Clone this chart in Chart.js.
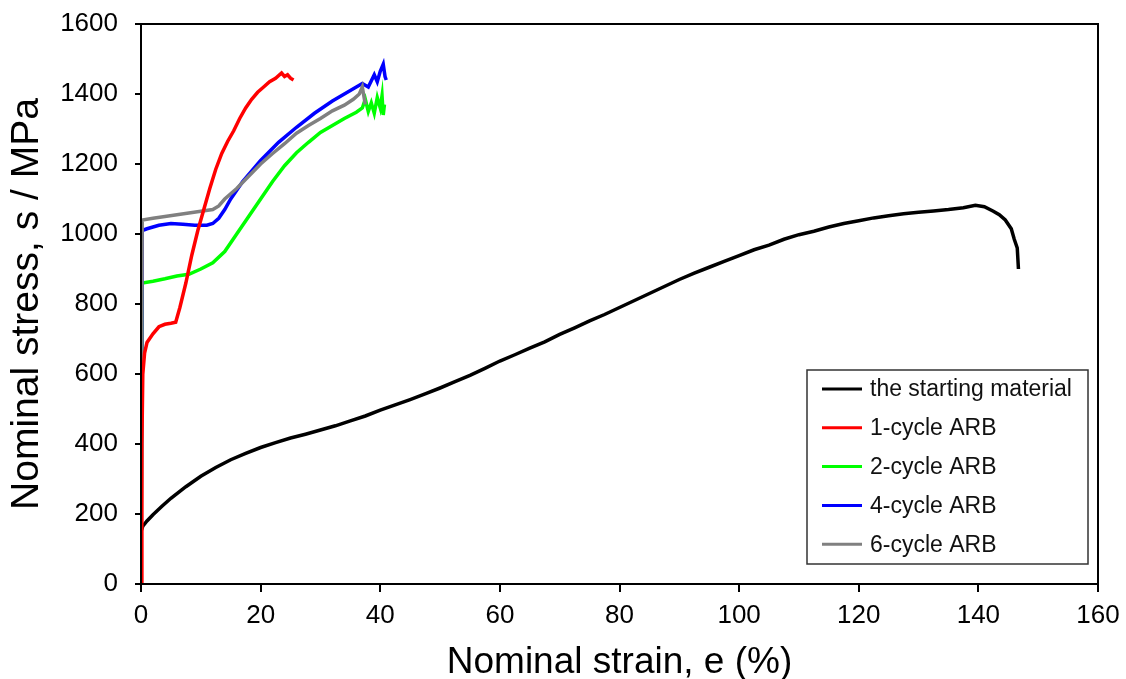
<!DOCTYPE html>
<html lang="en">
<head>
  <meta charset="UTF-8">
  <title>Nominal stress-strain curves</title>
  <script src="https://cdn.jsdelivr.net/npm/chart.js"></script>
  <style>
    body {
      margin: 0;
      background: #ffffff;
    }
    canvas {
      display: block;
    }
  </style>
</head>
<body>

  <canvas id="ssChart" width="1126" height="679"></canvas>

  <script>
    // series labels + colours
    const seriesNames = ['the starting material', '1-cycle ARB', '2-cycle ARB', '4-cycle ARB', '6-cycle ARB'];
    const seriesColors = ['#000000', '#ff0000', '#00ff00', '#0000ff', '#808080'];

    // axis ticks
    const strainTicks = [0, 20, 40, 60, 80, 100, 120, 140, 160];
    const stressTicks = [0, 200, 400, 600, 800, 1000, 1200, 1400, 1600];

    // the starting material
    const startStrain = [0, 0, 0.3, 1, 2, 3.5, 5, 7.5, 10, 12.5, 15, 17.5, 20, 22.5, 25, 27.5, 30, 32.5, 35, 37.5, 40, 42.5, 45, 47.5, 50, 52.5, 55, 57.5, 60, 62.5, 65, 67.5, 70, 72.5, 75, 77.5, 80, 82.5, 85, 87.5, 90, 92.5, 95, 97.5, 100, 102.5, 105, 107.5, 110, 112.5, 115, 117.5, 120, 122.5, 125, 127.5, 130, 132.5, 135, 137.5, 139.5, 141, 142.5, 143.5, 144.5, 145.5, 146, 146.5, 146.7];
    const startStress = [0, 150, 165, 180, 198, 222, 245, 278, 308, 333, 355, 373, 390, 404, 417, 428, 440, 452, 466, 480, 497, 512, 527, 543, 560, 578, 596, 616, 637, 655, 674, 692, 713, 732, 752, 770, 790, 810, 830, 850, 870, 888, 905, 922, 938, 955, 968, 985, 998, 1008, 1020, 1030, 1038, 1046, 1052, 1058, 1062, 1066, 1070, 1075, 1082, 1078, 1065, 1055, 1040, 1015, 985, 960, 900];

    // 1-cycle
    const arb1Strain = [0, 0.15, 0.3, 0.6, 1, 2, 3, 4, 5, 5.8, 6.5, 7.5, 8.5, 9.5, 10.5, 11.5, 12.5, 13.5, 14.5, 15.5, 16.5, 17.5, 18.5, 19.5, 20.5, 21.5, 22.5, 23.5, 24, 24.5, 25, 25.5];
    const arb1Stress = [0, 400, 600, 660, 690, 715, 735, 742, 745, 748, 790, 860, 940, 1010, 1070, 1130, 1185, 1230, 1265, 1295, 1330, 1360, 1385, 1405, 1420, 1435, 1445, 1460, 1450, 1455, 1445, 1440];

    // 2-cycle
    const arb2Strain = [0, 0.2, 2, 4, 6, 8, 10, 12, 14, 16, 18, 20, 22, 24, 26, 28, 30, 32, 34, 36, 37, 37.5, 38, 38.5, 39, 39.5, 40, 40.3, 40.5, 40.7];
    const arb2Stress = [0, 860, 865, 872, 880, 885, 900, 918, 950, 1000, 1050, 1100, 1150, 1195, 1232, 1262, 1290, 1310, 1330, 1348, 1360, 1385, 1350, 1375, 1345, 1390, 1360, 1395, 1340, 1370];

    // 4-cycle
    const arb4Strain = [0, 0.2, 1, 3, 5, 7, 9, 11, 12, 13, 14, 15, 17, 20, 23, 26, 29, 32, 35, 37, 38, 39, 39.5, 40, 40.5, 40.8, 41];
    const arb4Stress = [0, 1010, 1015, 1025, 1030, 1028, 1025, 1025, 1030, 1045, 1070, 1100, 1150, 1210, 1262, 1305, 1345, 1380, 1410, 1430, 1420, 1455, 1435, 1465, 1485, 1450, 1440];

    // 6-cycle
    const arb6Strain = [0, 0.2, 2, 4, 6, 8, 10, 12, 13, 14, 16, 18, 20, 22, 24, 26, 28, 30, 32, 34, 35.5, 36.5, 37, 37.5];
    const arb6Stress = [0, 1040, 1045, 1050, 1055, 1060, 1065, 1070, 1080, 1100, 1130, 1165, 1200, 1230, 1258, 1288, 1310, 1330, 1352, 1368, 1385, 1400, 1420, 1370];

    const allStrain = [startStrain, arb1Strain, arb2Strain, arb4Strain, arb6Strain];
    const allStress = [startStress, arb1Stress, arb2Stress, arb4Stress, arb6Stress];
    // lower order = drawn on top
    const drawOrder = [5, 0, 3, 2, 1];

    const FONT = '"Liberation Sans", Arial, sans-serif';

    const datasets = seriesNames.map((name, i) => ({
      label: name,
      data: allStrain[i].map((x, j) => ({ x: x, y: allStress[i][j] })),
      borderColor: seriesColors[i],
      backgroundColor: seriesColors[i],
      borderWidth: 3.5,
      pointRadius: 0,
      tension: 0,
      fill: false,
      order: drawOrder[i]
    }));

    // box round the plot area
    const framePlugin = {
      id: 'frame',
      afterDraw(chart) {
        const { ctx, chartArea } = chart;
        ctx.save();
        ctx.strokeStyle = '#000';
        ctx.lineWidth = 2;
        ctx.strokeRect(chartArea.left, chartArea.top, chartArea.right - chartArea.left, chartArea.bottom - chartArea.top);
        ctx.restore();
      }
    };

    // legend boxed in the lower right corner of the plot
    const boxLegend = {
      id: 'boxLegend',
      afterDraw(chart) {
        const { ctx, chartArea } = chart;
        const w = 281, h = 194, rowH = 38.8;
        const left = chartArea.right - 10 - w;
        const top = chartArea.bottom - 20 - h;
        ctx.save();
        ctx.fillStyle = '#fff';
        ctx.fillRect(left, top, w, h);
        ctx.strokeStyle = '#333';
        ctx.lineWidth = 1.5;
        ctx.strokeRect(left, top, w, h);
        ctx.font = '23px ' + FONT;
        ctx.textBaseline = 'middle';
        chart.data.datasets.forEach((ds, i) => {
          const y = top + 19 + i * rowH;
          ctx.strokeStyle = ds.borderColor;
          ctx.lineWidth = 3;
          ctx.beginPath();
          ctx.moveTo(left + 15, y);
          ctx.lineTo(left + 55, y);
          ctx.stroke();
          ctx.fillStyle = '#111';
          ctx.fillText(ds.label, left + 63, y + 1);
        });
        ctx.restore();
      }
    };

    new Chart(document.getElementById('ssChart').getContext('2d'), {
      type: 'line',
      data: { datasets: datasets },
      options: {
        responsive: false,
        animation: false,
        layout: { padding: { top: 24, right: 28, left: 0, bottom: 0 } },
        plugins: {
          legend: { display: false },
          tooltip: { enabled: false }
        },
        scales: {
          x: {
            type: 'linear',
            min: strainTicks[0],
            max: strainTicks[strainTicks.length - 1],
            afterBuildTicks: s => { s.ticks = strainTicks.map(v => ({ value: v })); },
            afterFit: s => { s.height = 95; s.paddingLeft = 0; s.paddingRight = 0; },
            ticks: { color: '#000', font: { family: FONT, size: 26 }, padding: 8, maxRotation: 0, callback: v => String(v) },
            grid: { drawOnChartArea: false, drawTicks: true, tickLength: 8, color: '#000', lineWidth: 2 },
            border: { display: true, color: '#000', width: 2 },
            title: {
              display: true,
              text: 'Nominal strain, e (%)',
              color: '#000',
              font: { family: FONT, size: 37, lineHeight: 0.9 },
              padding: { top: 0, bottom: 0 }
            }
          },
          y: {
            min: stressTicks[0],
            max: stressTicks[stressTicks.length - 1],
            afterBuildTicks: s => { s.ticks = stressTicks.map(v => ({ value: v })); },
            afterFit: s => { s.width = 141; s.paddingTop = 0; s.paddingBottom = 0; },
            ticks: { color: '#000', font: { family: FONT, size: 26 }, padding: 17, callback: v => String(v) },
            grid: { drawOnChartArea: false, drawTicks: true, tickLength: 6, color: '#000', lineWidth: 2 },
            border: { display: true, color: '#000', width: 2 },
            title: {
              display: true,
              text: 'Nominal stress, s / MPa',
              color: '#000',
              font: { family: FONT, size: 39 },
              padding: { top: 4, bottom: 0 }
            }
          }
        }
      },
      plugins: [framePlugin, boxLegend]
    });
  </script>

</body>
</html>
